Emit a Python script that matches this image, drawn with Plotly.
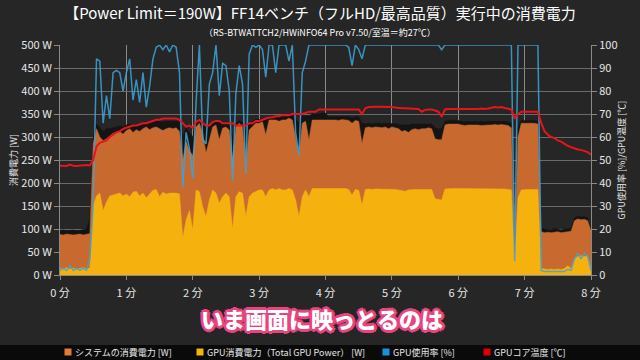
import plotly.graph_objects as go

# sample times (minutes)
minutes = [round(i * 0.05, 2) for i in range(161)]

# system power, upper (dark) envelope [W]
system_peak_w = [
    97, 98, 96, 97, 98, 96, 97, 99, 100, 122,
    300, 328, 320, 312, 318, 318, 320, 322, 324, 322,
    326, 328, 326, 328, 328, 330, 330, 330, 332, 334,
    334, 332, 334, 334, 334, 334, 332, 300, 320, 310,
    300, 334, 336, 330, 320, 326, 332, 334, 330, 332,
    332, 330, 300, 330, 336, 332, 310, 330, 334, 338,
    338, 340, 338, 344, 344, 344, 344, 346, 346, 348,
    346, 340, 330, 346, 346, 346, 350, 350, 350, 352,
    352, 344, 344, 344, 343, 344, 344, 344, 342, 344,
    344, 330, 328, 330, 328, 330, 330, 329, 330, 330,
    330, 329, 328, 326, 326, 326, 328, 328, 328, 328,
    328, 328, 328, 320, 318, 318, 334, 336, 336, 336,
    336, 334, 333, 334, 333, 334, 333, 334, 333, 334,
    334, 335, 334, 335, 334, 333, 330, 40, 320, 336,
    336, 336, 336, 336, 334, 102, 100, 100, 99, 101,
    100, 98, 100, 100, 102, 124, 128, 126, 127, 124,
    100,
]

# system power [W]
system_w = [
    88, 87, 89, 88, 87, 88, 89, 87, 88, 90,
    285, 318, 300, 292, 296, 302, 308, 310, 312, 306,
    314, 318, 310, 316, 312, 318, 322, 316, 320, 322,
    318, 314, 318, 320, 318, 320, 312, 250, 290, 270,
    260, 322, 330, 308, 265, 294, 322, 326, 294, 319,
    322, 315, 250, 322, 330, 322, 240, 315, 322, 330,
    330, 333, 305, 337, 337, 337, 334, 337, 337, 341,
    337, 300, 260, 330, 334, 294, 337, 337, 337, 337,
    337, 337, 338, 337, 336, 338, 337, 336, 330, 336,
    334, 286, 320, 322, 320, 322, 321, 320, 322, 318,
    322, 320, 318, 312, 314, 310, 316, 318, 316, 318,
    318, 320, 318, 296, 294, 294, 326, 328, 328, 328,
    328, 326, 325, 326, 326, 327, 326, 325, 326, 326,
    326, 327, 326, 327, 326, 325, 320, 30, 300, 330,
    330, 330, 330, 330, 328, 94, 92, 93, 92, 93,
    94, 92, 93, 93, 95, 118, 122, 120, 121, 118,
    96,
]

# GPU power (Total GPU Power) [W]
gpu_power_w = [
    14, 12, 16, 13, 15, 12, 14, 16, 13, 15,
    150, 172, 178, 140, 158, 172, 174, 176, 178, 172,
    176, 170, 180, 182, 172, 178, 168, 176, 184, 186,
    170, 180, 176, 178, 178, 178, 176, 80, 120, 140,
    98, 185, 181, 148, 127, 163, 185, 178, 156, 170,
    178, 170, 100, 170, 181, 178, 127, 170, 178, 181,
    185, 185, 170, 185, 188, 185, 188, 185, 185, 188,
    185, 163, 127, 170, 185, 170, 188, 188, 188, 188,
    188, 188, 188, 188, 187, 188, 188, 186, 174, 186,
    184, 152, 186, 187, 186, 187, 187, 186, 187, 186,
    187, 186, 185, 184, 182, 185, 186, 186, 186, 186,
    186, 186, 186, 166, 164, 163, 187, 188, 188, 188,
    188, 187, 187, 187, 187, 187, 187, 187, 187, 187,
    187, 187, 187, 187, 187, 186, 185, 28, 168, 185,
    186, 186, 186, 186, 186, 14, 13, 12, 13, 12,
    13, 12, 14, 20, 14, 35, 40, 42, 40, 42,
    14,
]

# GPU usage [%]
gpu_usage_pct = [
    2, 3, 2, 4, 2, 3, 2, 3, 2, 7,
    30, 94, 93, 66, 78, 68, 88, 89, 88, 80,
    88, 94, 76, 85, 75, 88, 73, 82, 94, 99,
    100, 98, 100, 97, 100, 99, 88, 38, 62, 55,
    42, 75, 100, 59, 57, 83, 88, 100, 78, 92,
    91, 80, 41, 79, 91, 83, 44, 96, 100, 99,
    100, 98, 86, 100, 100, 88, 100, 100, 100, 93,
    100, 62, 52, 88, 93, 100, 100, 100, 100, 100,
    100, 100, 100, 100, 100, 100, 100, 99, 91, 100,
    98, 94, 100, 100, 100, 100, 100, 100, 100, 100,
    100, 100, 100, 100, 100, 100, 100, 100, 100, 100,
    100, 100, 100, 100, 100, 98, 100, 100, 100, 100,
    100, 100, 100, 100, 100, 100, 100, 100, 100, 100,
    100, 100, 100, 100, 100, 100, 100, 6, 100, 100,
    100, 100, 100, 100, 100, 2, 1.5, 1.5, 1.5, 1.5,
    1.5, 1.5, 1.5, 2.5, 2, 7, 9.5, 7, 9.5, 8,
    2,
]

# GPU core temperature [°C]
gpu_temp_c = [
    47.5, 47.6, 47.4, 48.0, 47.5, 47.4, 47.6, 47.5, 47.8, 47.6,
    50, 56, 57.5, 58, 58.5, 60, 61, 62, 62.5, 63.5,
    64, 64.5, 65, 65, 65.5, 66, 66, 66.5, 67, 67.5,
    67.5, 68, 68, 68, 68, 68, 67.5, 66, 64.5, 65,
    64, 66.5, 67.4, 66, 65, 65, 66.5, 67, 67, 66,
    66, 66, 66, 65, 65, 65, 65, 66, 66, 67,
    67, 67.5, 68, 68.5, 68.5, 69, 69, 69.5, 69.5, 69.5,
    70, 70, 70, 70, 70.5, 71, 71, 71, 72, 72,
    72, 72.2, 72.2, 72.2, 72.2, 72.2, 72.2, 72, 72, 72.2,
    72, 70, 72.5, 73, 73.2, 73.2, 73.2, 73.2, 73.2, 73.2,
    73, 72.8, 72.5, 72.5, 72.5, 72.5, 72.5, 72.5, 72.2, 71,
    71.8, 72, 72, 71.5, 71, 68.8, 72, 72.2, 72.2, 72.2,
    72.2, 72.2, 72.2, 72.2, 72.2, 72, 72.2, 72.4, 72.2, 72.4,
    72.6, 73, 72.8, 73, 72.6, 72.4, 72, 68, 70, 71,
    71, 71, 71.2, 71, 71, 66, 62.5, 61, 60, 59.5,
    58.5, 58, 57, 56.2, 55.6, 55, 54.6, 54.4, 54, 53.4,
    52.3,
]

legend_names = ["システムの消費電力 [W]", "GPU消費電力（Total GPU Power） [W]",
                "GPU使用率 [%]", "GPUコア温度 [℃]"]
legend_colors = ["#E07B39", "#F2B705", "#1E90D8", "#E00000"]

FONT = "Noto Sans CJK JP"
BG = "#262626"
L, R, T, B = 60, 49, 45, 85
PW, PH = 640 - L - R, 360 - T - B


def px_x(px):
    return (px - L) / PW


def px_y(py):
    return (360 - B - py) / PH


fig = go.Figure()

fig.add_trace(go.Scatter(x=minutes, y=system_peak_w, mode="lines", fill="tozeroy",
                         line=dict(color="#141414", width=0.5), fillcolor="#141414",
                         showlegend=False, hoverinfo="skip"))
fig.add_trace(go.Scatter(x=minutes, y=system_w, mode="lines", fill="tozeroy",
                         line=dict(color="#C8692F", width=0.5), fillcolor="#C8692F",
                         name=legend_names[0], showlegend=False))
fig.add_trace(go.Scatter(x=minutes, y=gpu_power_w, mode="lines", fill="tozeroy",
                         line=dict(color="#F5B20F", width=0.5), fillcolor="#F5B20F",
                         name=legend_names[1], showlegend=False))
fig.add_trace(go.Scatter(x=minutes, y=gpu_usage_pct, mode="lines", yaxis="y2",
                         line=dict(color="rgba(60,165,218,0.85)", width=1.5),
                         name=legend_names[2], showlegend=False))
fig.add_trace(go.Scatter(x=minutes, y=gpu_temp_c, mode="lines", yaxis="y2",
                         line=dict(color="#E8141C", width=2),
                         name=legend_names[3], showlegend=False))

axis_font = dict(family=FONT, size=11, color="#E6E6E6")

fig.update_layout(
    width=640, height=360,
    paper_bgcolor=BG, plot_bgcolor=BG,
    margin=dict(l=L, r=R, t=T, b=B, autoexpand=False),
    font=dict(family=FONT, color="#E6E6E6"),
    showlegend=False,
    title=dict(text="【Power Limit＝190W】FF14ベンチ（フルHD/最高品質）実行中の消費電力",
               x=0.5, xanchor="center", y=0.962, yanchor="middle",
               font=dict(family=FONT, size=15, color="#FFFFFF")),
    xaxis=dict(range=[0, 8], dtick=1, ticksuffix=" 分", showgrid=True,
               gridcolor="#8A8A8A", gridwidth=1, zeroline=False, automargin=False,
               ticks="outside", ticklen=4, tickcolor="#8A8A8A", ticklabelstandoff=4,
               showline=True, linecolor="#8A8A8A", tickfont=axis_font),
    yaxis=dict(range=[0, 500], dtick=50, ticksuffix=" W", showgrid=True,
               gridcolor="#6A6A6A", gridwidth=1, zeroline=False, automargin=False,
               ticks="outside", ticklen=5, tickcolor="#8A8A8A",
               showline=True, linecolor="#8A8A8A", tickfont=axis_font,
               title=dict(text="消費電力 [W]", standoff=2,
                          font=dict(family=FONT, size=9, color="#E6E6E6"))),
    yaxis2=dict(range=[0, 100], dtick=10, overlaying="y", side="right",
                showgrid=False, zeroline=False, ticks="outside", ticklen=5, automargin=False,
                tickcolor="#8A8A8A", showline=True, linecolor="#8A8A8A",
                tickfont=axis_font,
                title=dict(text="GPU使用率 [%]/GPU温度 [℃]", standoff=2,
                           font=dict(family=FONT, size=9, color="#E6E6E6"))),
)

# black strip behind legend
fig.add_shape(type="rect", xref="paper", yref="paper",
              x0=px_x(-10), x1=px_x(650), y0=px_y(345), y1=px_y(370),
              fillcolor="#0A0A0A", line=dict(width=0), layer="below")

# legend: coloured squares + labels
legend_square_x = [68, 200, 386, 487]
for name, col, sx in zip(legend_names, legend_colors, legend_square_x):
    fig.add_shape(type="rect", xref="paper", yref="paper",
                  x0=px_x(sx - 3.5), x1=px_x(sx + 3.5), y0=px_y(348.5), y1=px_y(355.5),
                  fillcolor=col, line=dict(width=0), layer="above")
    fig.add_annotation(text=name, xref="paper", yref="paper", x=px_x(sx + 5), y=px_y(352),
                       xanchor="left", yanchor="middle", showarrow=False,
                       font=dict(family=FONT, size=9, color="#E6E6E6"))

# subtitle
fig.add_annotation(text="（RS-BTWATTCH2/HWiNFO64 Pro v7.50/室温＝約27℃）",
                   xref="paper", yref="paper", x=px_x(320), y=px_y(32),
                   xanchor="center", yanchor="middle", showarrow=False,
                   font=dict(family=FONT, size=9, color="#FFFFFF"))

# caption
pink = "#E8457F"
shadow = ", ".join(f"{dx}px {dy}px 0 {pink}" for dx, dy in
                   [(2, 0), (-2, 0), (0, 2), (0, -2), (2, 2), (-2, -2), (2, -2), (-2, 2),
                    (3, 0), (-3, 0), (0, 3), (0, -3)])
fig.add_annotation(text="いま画面に映っとるのは", xref="paper", yref="paper",
                   x=px_x(322), y=px_y(318), xanchor="center", yanchor="middle",
                   showarrow=False,
                   font=dict(family=FONT, size=22, color="#FFFFFF", weight=900, shadow=shadow))

fig.write_html("out.html", config={"displayModeBar": False},
               post_script="document.body.style.margin='0';document.body.style.background='#262626';")
